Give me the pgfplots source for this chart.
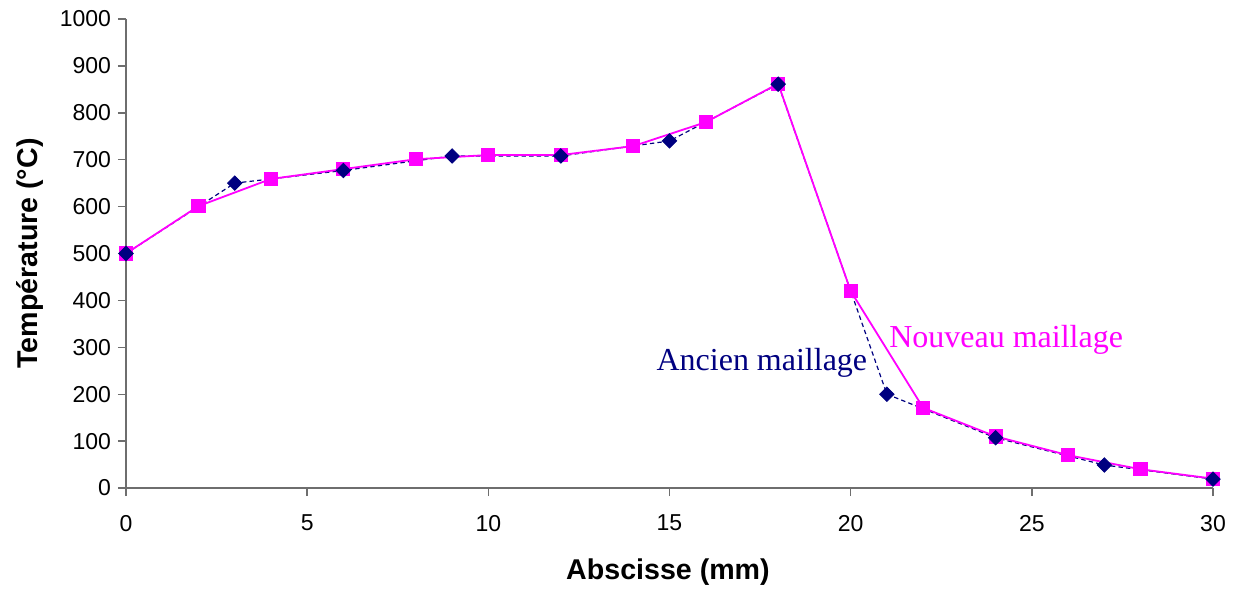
\documentclass[border=0pt]{standalone}
\usepackage{fontspec}
\setmainfont{Liberation Sans}
\newfontfamily\timesf{Liberation Serif}
\usepackage{pgfplots}
\pgfplotsset{compat=1.18}
\definecolor{navyc}{RGB}{0,0,128}
\definecolor{pinkc}{RGB}{255,0,255}
\definecolor{axc}{RGB}{110,110,110}
\begin{document}
\begin{tikzpicture}
\begin{axis}[
  scale only axis,
  width=543.5pt, height=234.5pt,
  xmin=0, xmax=30, ymin=0, ymax=1000,
  xtick={0,5,...,30}, ytick={0,100,...,1000},
  axis x line*=bottom, axis y line*=left,
  axis line style={axc, line width=0.7pt},
  tick align=outside,
  major tick length=4pt,
  tick style={axc, line width=0.7pt},
  /pgf/number format/assume math mode=true,
  /pgf/number format/1000 sep={},
  ticklabel style={font=\fontsize{11.5}{13}\selectfont, text=black},
  xticklabel style={yshift=-6pt},
  xlabel={Abscisse (mm)},
  ylabel={Température (°C)},
  xlabel style={font=\bfseries\fontsize{14.3}{16}\selectfont, at={(axis description cs:0.4986,-0.179)}, anchor=center},
  ylabel style={font=\bfseries\fontsize{14.3}{16}\selectfont, at={(axis description cs:-0.0883,0.5)}, anchor=center},
  clip=false,
]
% Ancien maillage line
\addplot[navyc, line width=0.6pt, dash pattern=on 2.2pt off 1.6pt, forget plot] coordinates {
(0,500) (3,650) (6,677) (9,708) (12,708) (15,740) (18,861) (21,200) (24,107) (27,49) (30,19)
};
% Nouveau maillage
\addplot[pinkc, line width=0.9pt, mark=square*, mark size=3.1pt, mark options={solid, fill=pinkc, draw=pinkc}] coordinates {
(0,500) (2,601) (4,659) (6,680) (8,701) (10,710) (12,710) (14,729) (16,780) (18,862) (20,420) (22,171) (24,110) (26,70) (28,40) (30,20)
};
% Ancien markers
\addplot[only marks, mark=square*, mark size=2.55pt, mark options={rotate=45, fill=navyc, draw=navyc}] coordinates {
(0,500) (3,650) (6,677) (9,708) (12,708) (15,740) (18,861) (21,200) (24,107) (27,49) (30,19)
};
\node[anchor=base, text=navyc, font=\timesf\fontsize{16}{18}\selectfont, inner sep=0pt] at (axis cs:17.55,251.6) {Ancien maillage};
\node[anchor=base, text=pinkc, font=\timesf\fontsize{16}{18}\selectfont, inner sep=0pt] at (axis cs:24.29,300.6) {Nouveau maillage};
\end{axis}
\pgfresetboundingbox
\path[use as bounding box] (-63pt,-51pt) rectangle (556pt,244pt);
\end{tikzpicture}
\end{document}
